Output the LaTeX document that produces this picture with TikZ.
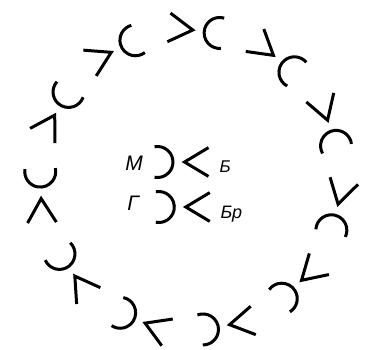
\documentclass[tikz,border=0pt]{standalone}
\usepackage{fontspec}
\setmainfont{Liberation Sans}
\usepackage{tikz}
\usetikzlibrary{positioning}
\usetikzlibrary{calc}

\begin{document}
\begin{tikzpicture}[x=1pt, y=1pt, line width=3pt,
    jack/.pic={
      % angle with its tip turned to the arc
      \draw (-37.5,14.4) -- (-13.5,0) -- (-37.5,-14.4);
      % arc with its back turned to the angle
      \draw (13.5,0) ++(79:15.5) arc[start angle=79, end angle=281, radius=15.5];
    },
    big/.style={font=\fontsize{21}{21}\selectfont\itshape, inner sep=0pt, anchor=base},
    small/.style={font=\fontsize{17}{17}\selectfont\itshape, inner sep=0pt, anchor=base west}]
        % Fix the page size
        \useasboundingbox (0,0) rectangle (367,349);

        % Define the number of pairs on the ring
        \def\n{11}
        % Define the radius of the ring
        \def\radius{149.4}

        % Centre of the ring
        \coordinate (c) at (190,169);

        % Draw the pairs round the ring, each turned clockwise
        \foreach \k in {0,...,10}
        {
          \pgfmathsetmacro{\ang}{116.5 - 360/\n * \k}
          \pic[rotate=\ang-90] at ($(c)+(\ang:\radius)$) {jack};
        }

        % Draw the two pairs in the middle
        \pic[rotate=180] at (171,187) {jack};
        \pic[rotate=180] at (172.3,142) {jack};

        \node[big] (m) at (134,179) {М};
        \node[small] (b) at (218,177) {Б};
        \node[big] (g) at (133,139) {Г};
        \node[small, font=\fontsize{18}{18}\selectfont\itshape] (bp) at (219,131) {Бр};
      \end{tikzpicture}
\end{document}
